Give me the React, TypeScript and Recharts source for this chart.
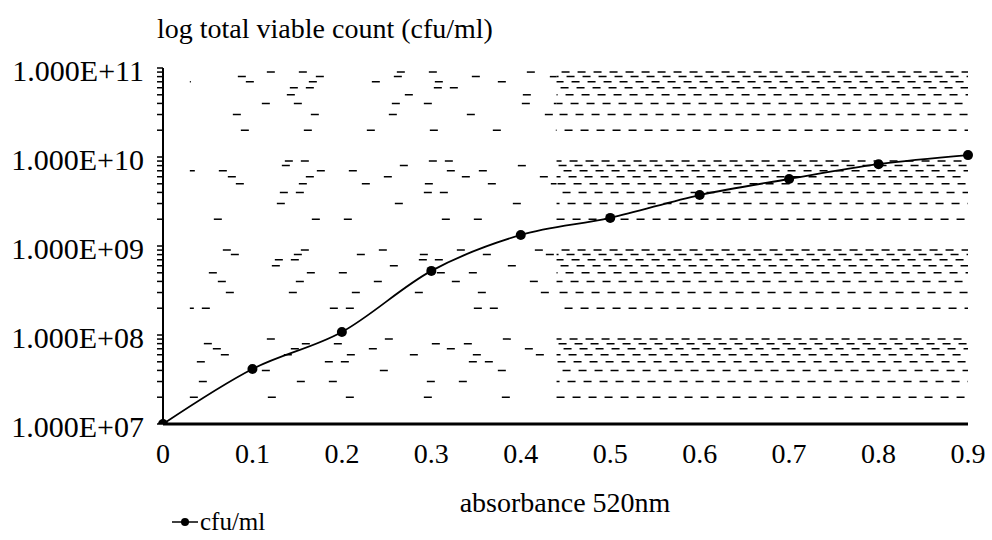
import React from 'react';
import { LineChart, Line, XAxis, YAxis, ReferenceLine, Legend, Label } from 'recharts';

// ---- data ----
const xValues = [0, 0.1, 0.2, 0.3, 0.4, 0.5, 0.6, 0.7, 0.8, 0.9];
const cfuValues = [1e7, 4.15e7, 1.08e8, 5.25e8, 1.33e9, 2.07e9, 3.74e9, 5.66e9, 8.3e9, 1.05e10];
const xTicks = [0, 0.1, 0.2, 0.3, 0.4, 0.5, 0.6, 0.7, 0.8, 0.9];
const majorTicks = [1e7, 1e8, 1e9, 1e10, 1e11];
const minorMultipliers = [2, 3, 4, 5, 6, 7, 8, 9];
const seriesName = 'cfu/ml';
const xTitle = 'absorbance 520nm';
const yTitle = 'log total viable count (cfu/ml)';

const FONT = '"Liberation Serif", "Times New Roman", Times, serif';

const minorValues: number[] = [];
majorTicks.slice(0, -1).forEach((m) => minorMultipliers.forEach((k) => minorValues.push(m * k)));
const allYTicks = [...majorTicks, ...minorValues].sort((a, b) => a - b);

const fmtY = (v: number) => {
  const e = Math.round(Math.log10(v));
  return `1.000E+${e < 10 ? '0' + e : e}`;
};

const YTick = (props: any) => {
  const { y, payload } = props;
  if (!majorTicks.includes(payload.value)) return <g />;
  return (
    <text x={144} y={y + 2} textAnchor="end" dominantBaseline="central" fontFamily={FONT} fontSize={30} fill="#000">
      {fmtY(payload.value)}
    </text>
  );
};

const XTick = (props: any) => {
  const { x, payload } = props;
  return (
    <text x={x} y={463} textAnchor="middle" fontFamily={FONT} fontSize={28} fill="#000">
      {String(payload.value)}
    </text>
  );
};

const leftPatterns = ['8 70', '8 24 8 90', '8 110', '8 8 8 120', '8 55'];

export default function App() {
  const data = xValues.map((x, i) => ({ x, cfu: cfuValues[i] }));
  return (
    <div style={{ position: 'absolute', left: 0, top: 0, width: 992, height: 540, background: '#fff' }}>
      <LineChart width={992} height={540} data={data} margin={{ top: 68, right: 24, left: 0, bottom: 76 }}>
        {minorValues.map((v, i) => (
          <ReferenceLine
            key={'l' + v}
            segment={[{ x: 0.03, y: v }, { x: 0.44, y: v }]}
            stroke="#000"
            strokeWidth={1.5}
            strokeDasharray={leftPatterns[i % leftPatterns.length]}
            strokeDashoffset={(i * 23) % 60}
          />
        ))}
        {minorValues.map((v, i) => (
          <ReferenceLine
            key={'r' + v}
            segment={[{ x: 0.44, y: v }, { x: 0.9, y: v }]}
            stroke="#000"
            strokeWidth={1.5}
            strokeDasharray="8 8"
            strokeDashoffset={(i * 5) % 16}
          />
        ))}
        <XAxis
          dataKey="x"
          type="number"
          domain={[0, 0.9]}
          ticks={xTicks}
          interval={0}
          height={40}
          tickLine={false}
          axisLine={{ stroke: '#000', strokeWidth: 3 }}
          tick={<XTick />}
        >
          <Label
            content={() => (
              <text x={565} y={512} textAnchor="middle" fontFamily={FONT} fontSize={28} fill="#000">
                {xTitle}
              </text>
            )}
          />
        </XAxis>
        <YAxis
          type="number"
          scale="log"
          domain={[1e7, 1e11]}
          allowDataOverflow
          ticks={allYTicks}
          interval={0}
          width={163}
          tickSize={6}
          axisLine={{ stroke: '#000', strokeWidth: 2 }}
          tickLine={{ stroke: '#000', strokeWidth: 1.5 }}
          tick={<YTick />}
        >
          <Label
            content={() => (
              <text x={157} y={38} textAnchor="start" fontFamily={FONT} fontSize={28} fill="#000">
                {yTitle}
              </text>
            )}
          />
        </YAxis>
        <Line
          dataKey="cfu"
          name={seriesName}
          type="monotone"
          stroke="#000"
          strokeWidth={1.8}
          dot={{ r: 5, fill: '#000', stroke: '#000', strokeWidth: 0 }}
          activeDot={false}
          isAnimationActive={false}
        />
        <Legend
          layout="horizontal"
          verticalAlign="middle"
          align="center"
          wrapperStyle={{ position: 'absolute', left: 172, top: 508, width: 'auto', height: 'auto' }}
          content={() => (
            <div style={{ display: 'flex', alignItems: 'center', fontFamily: FONT, fontSize: 25, color: '#000', lineHeight: '28px' }}>
              <svg width={26} height={12} style={{ display: 'block' }}>
                <line x1={0} y1={6} x2={26} y2={6} stroke="#000" strokeWidth={1.5} />
                <circle cx={13} cy={6} r={4} fill="#000" />
              </svg>
              <span style={{ marginLeft: 2 }}>{seriesName}</span>
            </div>
          )}
        />
      </LineChart>
    </div>
  );
}
